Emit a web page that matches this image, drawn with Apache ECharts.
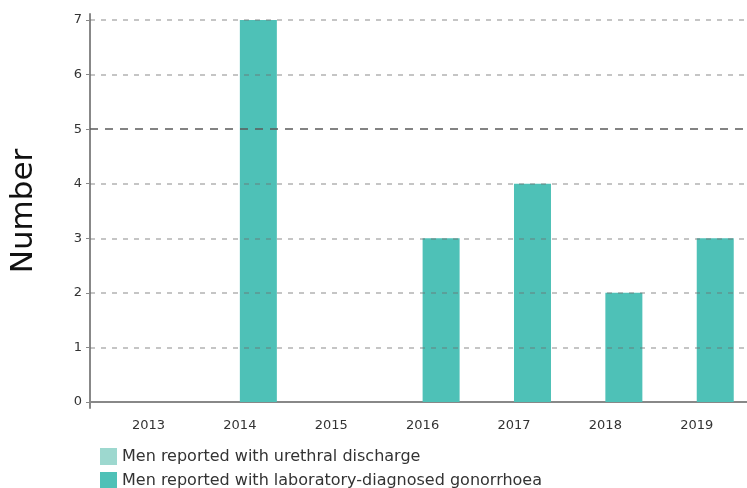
<!DOCTYPE html>
<html>
<head>
<meta charset="utf-8">
<script src="https://cdn.jsdelivr.net/npm/echarts@6/dist/echarts.min.js"></script>
<style>html,body{margin:0;padding:0;background:#fff}#c{width:747px;height:488px}</style>
</head>
<body>
<div id="c"></div>
<script>
const years = [2013, 2014, 2015, 2016, 2017, 2018, 2019];
const urethralDischarge = [0, 0, 0, 0, 0, 0, 0];
const labGonorrhoea = [0, 7, 0, 3, 4, 2, 3];
const yTicks = [0, 1, 2, 3, 4, 5, 6, 7];
const seriesNames = ['Men reported with urethral discharge', 'Men reported with laboratory-diagnosed gonorrhoea'];

const chart = echarts.init(document.getElementById('c'));
chart.setOption({
  animation: false,
  textStyle: { fontFamily: 'DejaVu Sans' },
  grid: { left: 87, right: 0, top: 14, bottom: 80, containLabel: false },
  legend: {
    orient: 'vertical', left: 100, top: 448, width: 600, height: 80, padding: 0,
    itemWidth: 17, itemHeight: 17, itemGap: 7,
    icon: 'rect',
    textStyle: { fontSize: 16, color: '#333', fontFamily: 'DejaVu Sans' },
    data: seriesNames
  },
  xAxis: {
    type: 'value', min: 2012.36, max: 2019.55,
    axisLine: { show: true, onZero: true, lineStyle: { color: '#888', width: 2 } },
    axisTick: { show: false },
    splitLine: { show: false },
    axisLabel: { customValues: years, margin: 11, fontSize: 13, color: '#333', formatter: v => String(Math.round(v)) }
  },
  yAxis: {
    type: 'value', min: -0.11, max: 7.11, z: 5,
    name: 'Number', nameLocation: 'middle', nameRotate: 90, nameGap: 51,
    nameTextStyle: { fontSize: 31, color: '#111', fontFamily: 'DejaVu Sans' },
    axisLine: { show: true, onZero: false, lineStyle: { color: '#888', width: 2 } },
    axisTick: { show: true, customValues: yTicks, length: 4, lineStyle: { color: '#888' } },
    axisLabel: { customValues: yTicks, margin: 8, fontSize: 13, color: '#333' },
    splitLine: { show: false }
  },
  series: [
    {
      name: seriesNames[0], type: 'bar', barWidth: 37, barGap: 0,
      itemStyle: { color: '#9dd8cf' },
      data: years.map((y, i) => [y, urethralDischarge[i]])
    },
    {
      name: seriesNames[1], type: 'bar', barWidth: 37, barGap: 0,
      itemStyle: { color: '#4ec1b7' },
      data: years.map((y, i) => [y, labGonorrhoea[i]]),
      markLine: {
        silent: true, symbol: 'none', label: { show: false }, z: 10,
        data: yTicks.filter(v => v > 0).map(v => ({
          yAxis: v,
          lineStyle: v === 5
            ? { color: 'rgba(90,90,90,0.75)', type: [8, 7], width: 2 }
            : { color: 'rgba(110,110,110,0.4)', type: [5, 6], width: 2 }
        }))
      }
    }
  ]
});
</script>
</body>
</html>
